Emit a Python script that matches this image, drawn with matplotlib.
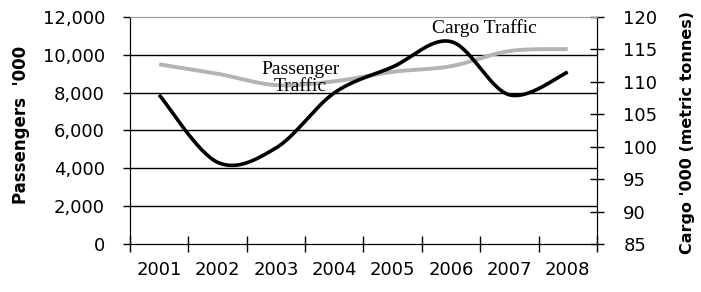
import numpy as np
import matplotlib.pyplot as plt

years = ['2001', '2002', '2003', '2004', '2005', '2006', '2007', '2008']
passengers = [9500, 9000, 8400, 8600, 9100, 9400, 10200, 10300]
cargo = [108.0, 97.6, 99.8, 108.3, 112.3, 116.2, 108.0, 111.5]


def smooth(y, n=30):
    # Excel-style smoothed line (Catmull-Rom bezier)
    y = np.asarray(y, dtype=float)
    x = np.arange(len(y), dtype=float)
    px = np.concatenate([[x[0]], x, [x[-1]]])
    py = np.concatenate([[y[0]], y, [y[-1]]])
    xs, ys = [], []
    t = np.linspace(0, 1, n)
    for i in range(1, len(px) - 2):
        p0 = np.array([px[i], py[i]])
        p3 = np.array([px[i + 1], py[i + 1]])
        p1 = p0 + (np.array([px[i + 1], py[i + 1]]) - np.array([px[i - 1], py[i - 1]])) / 6
        p2 = p3 - (np.array([px[i + 2], py[i + 2]]) - np.array([px[i], py[i]])) / 6
        b = ((1 - t) ** 3)[:, None] * p0 + (3 * (1 - t) ** 2 * t)[:, None] * p1 \
            + (3 * (1 - t) * t ** 2)[:, None] * p2 + (t ** 3)[:, None] * p3
        xs.extend(b[:, 0])
        ys.extend(b[:, 1])
    return np.array(xs), np.array(ys)


fig = plt.figure(figsize=(7.01, 2.92), dpi=100)
ax1 = fig.add_axes([0.1854, 0.1644, 0.6662, 0.7774])
ax2 = ax1.twinx()

x = np.arange(len(years))

for v in [2000, 4000, 6000, 8000, 10000]:
    ax1.axhline(v, color='black', linewidth=1, zorder=1)

sx, sy = smooth(passengers)
ax1.plot(sx, sy, color='#b3b3b3', linewidth=2.8, solid_capstyle='butt', zorder=2)
cx, cy = smooth(cargo)
ax2.plot(cx, cy, color='black', linewidth=2.6, solid_capstyle='butt', zorder=3)

ax1.set_xlim(-0.5, 7.5)
ax1.set_ylim(0, 12000)
ax2.set_ylim(85, 120)

ax1.set_xticks(np.arange(-0.5, 8, 1))
ax1.set_xticklabels([])
ax1.set_xticks(x, minor=True)
ax1.set_xticklabels(years, minor=True, fontsize=13)
ax1.tick_params(axis='x', which='major', direction='inout', length=12, width=1)
ax1.tick_params(axis='x', which='minor', length=0, pad=12)

ax1.set_yticks(np.arange(0, 12001, 2000))
ax1.set_yticklabels(['{:,}'.format(v) for v in range(0, 12001, 2000)], fontsize=13)
ax1.tick_params(axis='y', direction='out', length=5, width=1, pad=13)

ax2.set_yticks(np.arange(85, 121, 5))
ax2.tick_params(axis='y', direction='inout', length=10, width=1, pad=14, labelsize=13)

for ax in (ax1, ax2):
    ax.spines['top'].set_color('#a0a0a0')
    ax.spines['left'].set_color('black')
    ax.spines['right'].set_color('black')
    ax.spines['bottom'].set_color('black')

ax1.set_ylabel("Passengers  '000", fontsize=12, fontweight='bold')
ax1.yaxis.set_label_coords(-0.214, 0.524)
ax2.set_ylabel("Cargo '000 (metric tonnes)", fontsize=11.5, fontweight='bold')
ax2.yaxis.set_label_coords(1.178, 0.49)

ax1.text(2.42, 8800, 'Passenger\nTraffic', family='Liberation Serif', fontsize=14,
         ha='center', va='center', linespacing=1.0, zorder=4)
ax2.text(5.58, 118.3, 'Cargo Traffic', family='Liberation Serif', fontsize=14,
         ha='center', va='center', zorder=4)

fig.savefig('out.png', dpi=100)
